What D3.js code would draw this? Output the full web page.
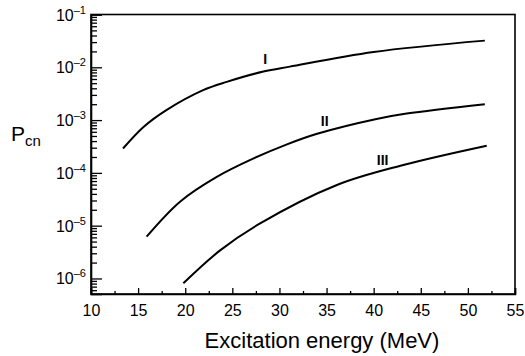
<!DOCTYPE html>
<html>
<head>
<meta charset="utf-8">
<script src="https://cdn.jsdelivr.net/npm/d3@7"></script>
<style>
  body { margin: 0; background: #fff; }
  text { font-family: "Liberation Sans", Arial, sans-serif; fill: #000; }
</style>
</head>
<body>
<svg width="525" height="356"></svg>
<script>
// curve I
var energyI = [13.4, 15.6, 18.0, 21.9, 24.4, 28.3, 31.1, 40.0, 51.8];
var pcnI = [2.9e-4, 7.5e-4, 1.55e-3, 3.7e-3, 5.3e-3, 8.3e-3, 1.03e-2, 1.95e-2, 3.2e-2];
// curve II
var energyII = [15.9, 19.45, 23.35, 27.2, 30.8, 34.0, 40.3, 43.5, 51.8];
var pcnII = [6.2e-6, 2.85e-5, 8.4e-5, 1.86e-4, 3.47e-4, 5.5e-4, 1.05e-3, 1.33e-3, 2.0e-3];
// curve III
var energyIII = [19.8, 23.7, 27.9, 36.1, 43.15, 52.0];
var pcnIII = [8.1e-7, 3.4e-6, 1.09e-5, 5.9e-5, 1.41e-4, 3.27e-4];

var xTicks = [10, 15, 20, 25, 30, 35, 40, 45, 50, 55];
var yExponents = [-1, -2, -3, -4, -5, -6];

var curves = [
  { name: "I", x: energyI, y: pcnI, labelAt: [28.5, 1.15e-2] },
  { name: "II", x: energyII, y: pcnII, labelAt: [34.8, 7.8e-4] },
  { name: "III", x: energyIII, y: pcnIII, labelAt: [40.95, 1.38e-4] }
];

var svg = d3.select("svg");
var plotLeft = 91, plotRight = 515, plotTop = 14.5, plotBottom = 294;

var x = d3.scaleLinear().domain([10, 55]).range([plotLeft, plotRight]);
var y = d3.scaleLog().domain([5.08e-7, 0.1]).range([plotBottom, plotTop]);

// frame
svg.append("rect")
  .attr("x", plotLeft).attr("y", plotTop)
  .attr("width", plotRight - plotLeft).attr("height", plotBottom - plotTop)
  .attr("fill", "none").attr("stroke", "#000").attr("stroke-width", 1.6);

// x axis: majors every 5, minors halfway
var minorX = d3.range(12.5, 55, 5);
svg.append("g")
  .attr("transform", "translate(0," + plotBottom + ")")
  .call(d3.axisBottom(x).tickValues(minorX).tickSize(-3).tickFormat(""))
  .call(function (g) { g.select(".domain").remove(); })
  .selectAll("line").attr("stroke-width", 1.3);

var xAxis = svg.append("g")
  .attr("transform", "translate(0," + plotBottom + ")")
  .call(d3.axisBottom(x).tickValues(xTicks).tickSize(-6).tickPadding(11));
xAxis.select(".domain").attr("stroke-width", 1.6);
xAxis.selectAll("line").attr("stroke-width", 1.3);
xAxis.selectAll("text")
  .style("font-family", '"Liberation Sans", Arial, sans-serif')
  .style("font-size", "16px").attr("fill", "#000");

// y axis: minor ticks 2..9 in each decade
var minorY = [];
for (var e = -7; e <= -2; e++) {
  for (var m = 2; m <= 9; m++) {
    var v = m * Math.pow(10, e);
    if (v >= y.domain()[0] && v < 0.1) minorY.push(v);
  }
}
svg.append("g")
  .attr("transform", "translate(" + plotLeft + ",0)")
  .call(d3.axisLeft(y).tickValues(minorY).tickSize(-6).tickFormat(""))
  .call(function (g) { g.select(".domain").remove(); })
  .selectAll("line").attr("stroke-width", 1.3);

var yAxis = svg.append("g")
  .attr("transform", "translate(" + plotLeft + ",0)")
  .call(d3.axisLeft(y).tickValues(yExponents.map(function (d) { return Math.pow(10, d); }))
    .tickSize(-11).tickFormat(""));
yAxis.select(".domain").attr("stroke-width", 1.6);
yAxis.selectAll("line").attr("stroke-width", 1.3);

// y tick labels with superscript exponents
var yLab = svg.append("g").selectAll("text")
  .data(yExponents).enter()
  .append("text")
  .attr("x", 86)
  .attr("y", function (d) { return y(Math.pow(10, d)) + 6; })
  .attr("text-anchor", "end")
  .style("font-size", "16px");
yLab.append("tspan").text("10");
yLab.append("tspan")
  .attr("dy", -7)
  .style("font-size", "11px")
  .text(function (d) { return d < 0 ? "\u2013" + (-d) : d; });

// curves
var line = d3.line()
  .x(function (d) { return x(d[0]); })
  .y(function (d) { return y(d[1]); })
  .curve(d3.curveCatmullRom.alpha(0.5));

curves.forEach(function (c) {
  var pts = c.x.map(function (v, i) { return [v, c.y[i]]; });
  svg.append("path")
    .datum(pts)
    .attr("d", line)
    .attr("fill", "none")
    .attr("stroke", "#000")
    .attr("stroke-width", 2);
  svg.append("text")
    .attr("x", x(c.labelAt[0]))
    .attr("y", y(c.labelAt[1]))
    .attr("text-anchor", "middle")
    .style("font-size", "14px")
    .style("font-weight", "bold")
    .text(c.name);
});

// axis titles
svg.append("text")
  .attr("x", 322)
  .attr("y", 348)
  .attr("text-anchor", "middle")
  .style("font-size", "22px")
  .text("Excitation energy (MeV)");

var pt = svg.append("text")
  .attr("x", 11)
  .attr("y", 141)
  .style("font-size", "21px");
pt.append("tspan").text("P");
pt.append("tspan").attr("dy", 5).style("font-size", "15px").text("cn");
</script>
</body>
</html>
